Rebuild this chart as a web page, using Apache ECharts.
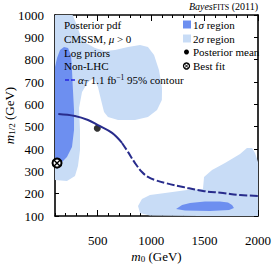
<!DOCTYPE html>
<html><head><meta charset="utf-8">
<script src="https://cdn.jsdelivr.net/npm/echarts@6/dist/echarts.min.js"></script>
<style>html,body{margin:0;padding:0;background:#fff}#c{width:274px;height:266px}</style>
</head><body><div id="c"></div>
<script>
// ---- data (m0, m1/2 in GeV) ----
const xMajorTicks = [500, 1000, 1500, 2000];
const yTicks = [100, 200, 300, 400, 500, 600, 700, 800, 900, 1000];

const sigma2Main = [
  [100,1000],[265,1000],[300,960],[336,910],[390,875],[474,852],[568,839],[662,843],
  [783,857],[896,866],[970,857],[1027,821],[1073,754],[1102,673],[1100,619],[1055,575],
  [970,543],[849,530],[690,530],[596,543],[559,566],[531,619],[502,678],[465,718],
  [409,700],[353,655],[325,584],[334,485],[334,396],[315,324],[287,279],[212,257],[100,261]
];
const sigma2Right = [
  [896,113],[877,145],[914,176],[989,194],[1130,203],[1336,216],[1485,221],[1495,275],
  [1570,306],[1691,337],[1832,378],[1897,405],[1944,405],[1972,382],[2000,342],[2000,100],
  [1457,100],[989,102]
];
const sigma1Left = [
  [100,767],[119,808],[147,843],[184,857],[222,852],[250,821],[259,754],[268,664],
  [278,575],[278,485],[259,409],[212,364],[166,342],[119,328],[100,328]
];
const sigma1Right = [
  [1233,131],[1289,149],[1364,158],[1504,165],[1644,165],[1719,160],[1757,149],
  [1775,136],[1729,127],[1551,122],[1317,125]
];
const contourSolid = [
  [131,557],[287,548],[409,530],[502,507],[634,472],[727,427]
];
const contourDashed = [
  [727,427],[783,387],[849,337],[914,297],[970,275],[1036,261],[1130,248],
  [1298,230],[1485,212],[1672,203],[1832,194],[2000,190]
];
const posteriorMean = [[496,493]];
const bestFit = [[119,337]];

// ---- styles ----
const SERIF = '"Liberation Serif", "DejaVu Serif", serif';
const C1 = '#6d8ff0';
const C2 = '#c8dcf6';
const CLINE = '#282c8c';

function polySeries(data, color) {
  return {
    type: 'custom', coordinateSystem: 'cartesian2d', data: data, clip: true, silent: true,
    encode: {x: 0, y: 1},
    renderItem: function (params, api) {
      if (params.dataIndex !== 0) return null;
      return {type: 'polygon', shape: {points: data.map(function (p) { return api.coord(p); })},
        style: {fill: color}};
    }
  };
}

function tok(size, style, extra) {
  return Object.assign({fontFamily: SERIF, fontSize: size, fontStyle: style || 'normal', color: '#000'}, extra || {});
}

const axisLineStyle = {color: '#000', width: 1.6};
const chart = echarts.init(document.getElementById('c'), null, {renderer: 'svg'});

const option = {
  animation: false,
  grid: {left: 55, right: 16, top: 15, bottom: 50, containLabel: false, outerBoundsMode: 'none'},
  xAxis: [
    {type: 'value', min: 100, max: 2000, interval: 100, position: 'bottom',
      axisLine: {show: true, onZero: false, lineStyle: axisLineStyle},
      axisTick: {show: true, inside: true, length: 3, lineStyle: {color: '#000', width: 1}},
      axisLabel: {formatter: function (v) { return xMajorTicks.indexOf(v) >= 0 ? String(v) : ''; },
        margin: 18, fontSize: 13, fontFamily: SERIF, color: '#000'},
      splitLine: {show: false},
      name: '{it|m}{sub|0}{n| (GeV)}', nameLocation: 'middle', nameGap: 33, nameMoveOverlap: false,
      nameTextStyle: {fontFamily: SERIF, fontSize: 13, color: '#000',
        rich: {it: tok(13, 'italic', {lineHeight: 14}), sub: tok(9, 'normal', {verticalAlign: 'bottom', lineHeight: 9}),
          n: tok(13, 'normal', {lineHeight: 14})}}},
    {type: 'value', min: 100, max: 2000, position: 'bottom',
      axisLine: {show: false, onZero: false},
      axisTick: {show: true, inside: true, length: 6, customValues: xMajorTicks, lineStyle: {color: '#000', width: 1}},
      axisLabel: {show: false}, splitLine: {show: false}},
    {type: 'value', min: 100, max: 2000, interval: 100, position: 'top',
      axisLine: {show: true, onZero: false, lineStyle: axisLineStyle},
      axisTick: {show: true, inside: true, length: 3, lineStyle: {color: '#000', width: 1}},
      axisLabel: {show: false}, splitLine: {show: false}},
    {type: 'value', min: 100, max: 2000, position: 'top',
      axisLine: {show: false, onZero: false},
      axisTick: {show: true, inside: true, length: 6, customValues: xMajorTicks, lineStyle: {color: '#000', width: 1}},
      axisLabel: {show: false}, splitLine: {show: false}}
  ],
  yAxis: [
    {type: 'value', min: 100, max: 1000, interval: 100, position: 'left',
      axisLine: {show: true, onZero: false, lineStyle: axisLineStyle},
      axisTick: {show: true, inside: true, length: 4, lineStyle: {color: '#000', width: 1}},
      axisLabel: {margin: 11, fontSize: 13, fontFamily: SERIF, color: '#000',
        formatter: function (v) { return yTicks.indexOf(v) >= 0 ? String(v) : ''; }},
      splitLine: {show: false},
      name: '{it|m}{sub|1/2}{n| (GeV)}', nameLocation: 'middle', nameGap: 39, nameRotate: 90, nameMoveOverlap: false,
      nameTextStyle: {fontFamily: SERIF, fontSize: 13, color: '#000',
        rich: {it: tok(13, 'italic', {lineHeight: 14}), sub: tok(9, 'normal', {verticalAlign: 'bottom', lineHeight: 9}),
          n: tok(13, 'normal', {lineHeight: 14})}}},
    {type: 'value', min: 100, max: 1000, interval: 100, position: 'right',
      axisLine: {show: true, onZero: false, lineStyle: axisLineStyle},
      axisTick: {show: true, inside: true, length: 4, lineStyle: {color: '#000', width: 1}},
      axisLabel: {show: false}, splitLine: {show: false}}
  ],
  series: [
    polySeries(sigma2Main, C2),
    polySeries(sigma2Right, C2),
    polySeries(sigma1Left, C1),
    polySeries(sigma1Right, C1),
    {type: 'line', data: contourSolid, smooth: 0.4, showSymbol: false, silent: true, clip: true,
      lineStyle: {color: CLINE, width: 2}},
    {type: 'line', data: contourDashed, smooth: 0.4, showSymbol: false, silent: true, clip: true,
      lineStyle: {color: CLINE, width: 2, type: [8, 2.5]}},
    {type: 'scatter', data: posteriorMean, symbol: 'circle', symbolSize: 7, silent: true,
      itemStyle: {color: '#000'}},
    {type: 'custom', data: bestFit, silent: true, clip: false, encode: {x: 0, y: 1}, z: 10,
      renderItem: function (params, api) {
        const p = api.coord([api.value(0), api.value(1)]);
        const r = 4.5, d = r * 0.7;
        return {type: 'group', children: [
          {type: 'circle', shape: {cx: p[0], cy: p[1], r: r}, style: {fill: '#fff', stroke: '#000', lineWidth: 2}},
          {type: 'line', shape: {x1: p[0] - d, y1: p[1] - d, x2: p[0] + d, y2: p[1] + d}, style: {stroke: '#000', lineWidth: 1.4}},
          {type: 'line', shape: {x1: p[0] - d, y1: p[1] + d, x2: p[0] + d, y2: p[1] - d}, style: {stroke: '#000', lineWidth: 1.4}}
        ]};
      }}
  ],
  graphic: [
    {type: 'text', x: 258, y: 5, z: 100, style: {text: '{it|Bayes}{sc|FITS}{n| (2011)}', align: 'right', verticalAlign: 'middle',
      textAlign: 'right', textVerticalAlign: 'middle', font: '10px ' + SERIF, fill: '#000',
      rich: {it: tok(10, 'italic', {lineHeight: 12, verticalAlign: 'bottom'}),
        sc: tok(8, 'normal', {lineHeight: 9.6, verticalAlign: 'bottom'}),
        n: tok(10, 'normal', {lineHeight: 12, verticalAlign: 'bottom'})}}},
    // left legend
    {type: 'text', x: 64, y: 25, z: 100, style: {text: 'Posterior pdf', font: '11px ' + SERIF, fill: '#000', verticalAlign: 'middle', textVerticalAlign: 'middle'}},
    {type: 'text', x: 64, y: 38.5, z: 100, style: {text: 'CMSSM, {it|μ}{n| > 0}', font: '11px ' + SERIF, fill: '#000', verticalAlign: 'middle', textVerticalAlign: 'middle',
      rich: {it: tok(11, 'italic'), n: tok(11, 'normal')}}},
    {type: 'text', x: 64, y: 52.5, z: 100, style: {text: 'Log priors', font: '11px ' + SERIF, fill: '#000', verticalAlign: 'middle', textVerticalAlign: 'middle'}},
    {type: 'text', x: 64, y: 66, z: 100, style: {text: 'Non-LHC', font: '11px ' + SERIF, fill: '#000', verticalAlign: 'middle', textVerticalAlign: 'middle'}},
    {type: 'line', z: 100, shape: {x1: 65, y1: 80, x2: 75, y2: 80}, style: {stroke: '#2424e0', lineWidth: 1.6, lineDash: [4, 2]}},
    {type: 'text', x: 78, y: 80, z: 100, style: {text: '{it|α}{sub|T}{n| 1.1 fb}{sup|−1}{n| 95% contour}', font: '11px ' + SERIF, fill: '#000', verticalAlign: 'middle', textVerticalAlign: 'middle',
      rich: {it: tok(11, 'italic', {lineHeight: 14}), n: tok(11, 'normal', {lineHeight: 14}),
        sub: tok(7.5, 'italic', {verticalAlign: 'bottom', lineHeight: 8}), sup: tok(7.5, 'normal', {verticalAlign: 'top', lineHeight: 8})}}},
    // right legend
    {type: 'rect', z: 100, shape: {x: 183, y: 20.5, width: 8, height: 8}, style: {fill: C1}},
    {type: 'text', x: 193, y: 24.5, z: 100, style: {text: '1{it|σ}{n| region}', font: '11px ' + SERIF, fill: '#000', verticalAlign: 'middle', textVerticalAlign: 'middle',
      rich: {it: tok(11, 'italic'), n: tok(11, 'normal')}}},
    {type: 'rect', z: 100, shape: {x: 183, y: 34.5, width: 8, height: 8}, style: {fill: C2}},
    {type: 'text', x: 193, y: 38.5, z: 100, style: {text: '2{it|σ}{n| region}', font: '11px ' + SERIF, fill: '#000', verticalAlign: 'middle', textVerticalAlign: 'middle',
      rich: {it: tok(11, 'italic'), n: tok(11, 'normal')}}},
    {type: 'circle', z: 100, shape: {cx: 186.5, cy: 52, r: 2.5}, style: {fill: '#000'}},
    {type: 'text', x: 193, y: 52, z: 100, style: {text: 'Posterior mean', font: '11px ' + SERIF, fill: '#000', verticalAlign: 'middle', textVerticalAlign: 'middle'}},
    {type: 'circle', z: 100, shape: {cx: 186.5, cy: 66, r: 3}, style: {fill: '#fff', stroke: '#000', lineWidth: 1.3}},
    {type: 'line', z: 100, shape: {x1: 184.6, y1: 64.1, x2: 188.4, y2: 67.9}, style: {stroke: '#000', lineWidth: 1}},
    {type: 'line', z: 100, shape: {x1: 184.6, y1: 67.9, x2: 188.4, y2: 64.1}, style: {stroke: '#000', lineWidth: 1}},
    {type: 'text', x: 193, y: 66, z: 100, style: {text: 'Best fit', font: '11px ' + SERIF, fill: '#000', verticalAlign: 'middle', textVerticalAlign: 'middle'}}
  ]
};
chart.setOption(option);
</script>
</body></html>
